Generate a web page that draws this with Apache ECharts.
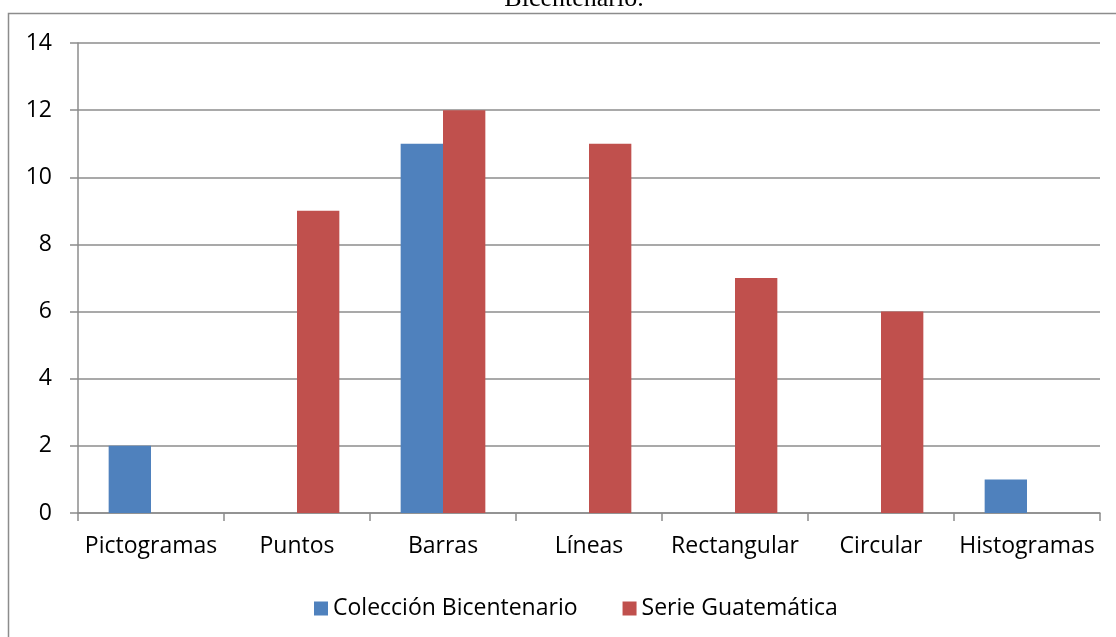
<!DOCTYPE html>
<html><head><meta charset="utf-8">
<script src="https://cdn.jsdelivr.net/npm/echarts@6/dist/echarts.min.js"></script>
<style>html,body{margin:0;padding:0;background:#fff}#c{width:1116px;height:637px}</style>
</head><body><div id="c"></div>
<script>
const categories = ['Pictogramas','Puntos','Barras','Líneas','Rectangular','Circular','Histogramas'];
const bicentenario = [2,0,11,0,0,0,1];
const guatematica = [0,9,12,11,7,6,0];
const seriesNames = ['Colección Bicentenario','Serie Guatemática'];
const titleText = 'Bicentenario.';

const chart = echarts.init(document.getElementById('c'));
const font = '"Open Sans", sans-serif';
chart.setOption({
  animation:false,
  graphic:[
    {type:'rect',shape:{x:8.5,y:13.5,width:1200,height:700},style:{fill:'none',stroke:'#8c8c8c',lineWidth:1.5},silent:true},
    {type:'text',x:574,y:12,style:{text:titleText,fontFamily:'"Liberation Serif", "Times New Roman", serif',fontSize:26,fontWeight:'normal',fill:'#000',align:'center',verticalAlign:'bottom'}}
  ],
  legend:{top:592,left:309,itemWidth:14,itemHeight:14,itemGap:45,icon:'rect',
    textStyle:{fontFamily:font,fontSize:23,color:'#000'},data:seriesNames},
  grid:{left:78,right:16,top:43,bottom:124,containLabel:false},
  xAxis:{type:'category',data:categories,
    axisLine:{lineStyle:{color:'#8c8c8c',width:1.5}},
    axisTick:{show:true,length:8,alignWithLabel:false,lineStyle:{color:'#8c8c8c',width:1.5}},
    axisLabel:{fontFamily:font,fontSize:23,color:'#000',margin:22,interval:0}},
  yAxis:{type:'value',min:0,max:14,interval:2,
    axisLine:{show:true,lineStyle:{color:'#8c8c8c',width:1.5}},
    axisTick:{show:true,length:8,lineStyle:{color:'#8c8c8c',width:1.5}},
    splitLine:{lineStyle:{color:'#8c8c8c',width:1.5}},
    axisLabel:{fontFamily:font,fontSize:23,color:'#000',margin:26}},
  series:[
    {name:seriesNames[0],type:'bar',data:bicentenario,itemStyle:{color:'#4F81BD'},barGap:'0%',barCategoryGap:'42%'},
    {name:seriesNames[1],type:'bar',data:guatematica,itemStyle:{color:'#C0504D'},barGap:'0%',barCategoryGap:'42%'}
  ]
});
</script></body></html>
